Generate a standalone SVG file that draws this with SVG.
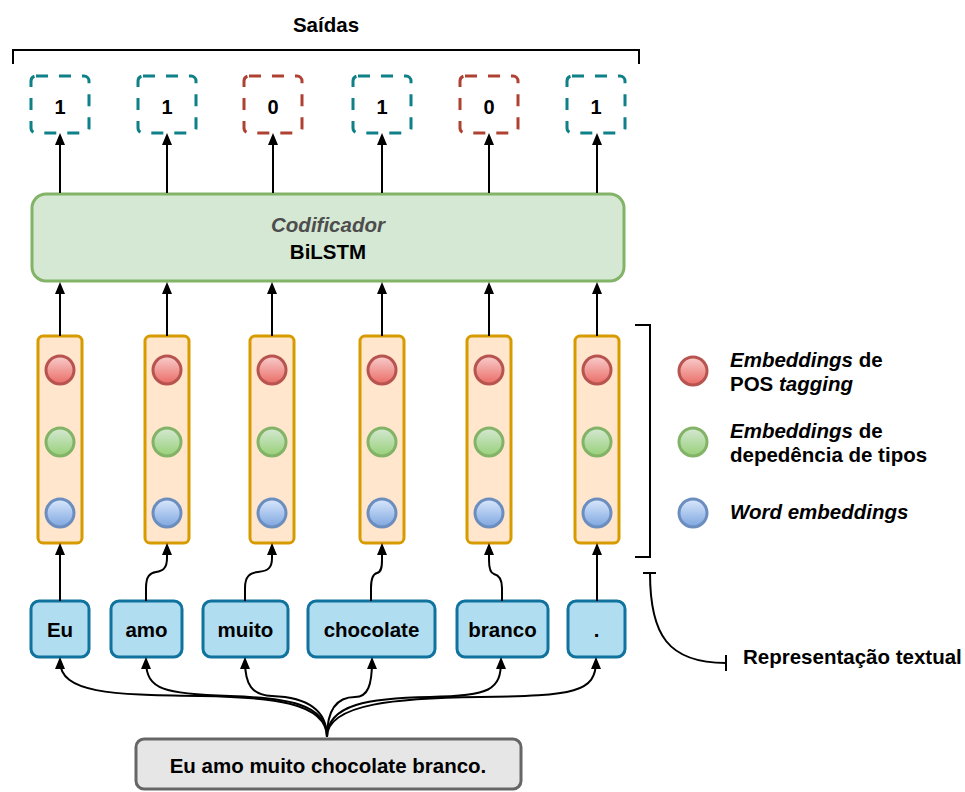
<svg xmlns="http://www.w3.org/2000/svg" width="965" height="792" viewBox="0 0 965 792">
<style>
text{font-family:"Liberation Sans",Arial,sans-serif;font-weight:bold;fill:#000}
.t20{font-size:20.5px}
.c{text-anchor:middle}
.out{fill:none;stroke-width:3;stroke-dasharray:12 11}
.teal{stroke:#0e8088}
.red{stroke:#ae4132}
.col{fill:#ffe6cc;stroke:#d79b00;stroke-width:3}
.word{fill:#b1ddf0;stroke:#10739e;stroke-width:3}
.edge{fill:none;stroke:#000;stroke-width:2}
.br{fill:none;stroke:#000;stroke-width:2}
.cr{fill:url(#gr);stroke:#b85450;stroke-width:3}
.cg{fill:url(#gg);stroke:#82b366;stroke-width:3}
.cb{fill:url(#gb);stroke:#6c8ebf;stroke-width:3}
</style>
<defs>
<marker id="ar" markerUnits="userSpaceOnUse" markerWidth="12" markerHeight="10" viewBox="0 0 12 10" refX="8" refY="5" orient="auto">
<path d="M0,0 L12,5 L0,10 z" fill="#000"/>
</marker>
<linearGradient id="gr" x1="0" y1="0" x2="0" y2="1"><stop offset="0" stop-color="#f8cecc"/><stop offset="1" stop-color="#ea6b66"/></linearGradient>
<linearGradient id="gg" x1="0" y1="0" x2="0" y2="1"><stop offset="0" stop-color="#d5e8d4"/><stop offset="1" stop-color="#97d077"/></linearGradient>
<linearGradient id="gb" x1="0" y1="0" x2="0" y2="1"><stop offset="0" stop-color="#dae8fc"/><stop offset="1" stop-color="#7ea6e0"/></linearGradient>
</defs>

<g id="saidas-label">
<text class="t20 c" x="326" y="32">Saídas</text>
<path class="br" d="M13,64 L13,50 L639,50 L639,64"/>
</g>

<g id="outputs">
<g id="out1"><rect class="out teal" x="31" y="76" width="58" height="57" rx="5"/><text class="c" font-size="20" x="60" y="114">1</text></g>
<g id="out2"><rect class="out teal" x="138" y="76" width="58" height="57" rx="5"/><text class="c" font-size="20" x="167" y="114">1</text></g>
<g id="out3"><rect class="out red" x="244" y="76" width="58" height="57" rx="5"/><text class="c" font-size="20" x="273" y="114">0</text></g>
<g id="out4"><rect class="out teal" x="353" y="76" width="58" height="57" rx="5"/><text class="c" font-size="20" x="382" y="114">1</text></g>
<g id="out5"><rect class="out red" x="460" y="76" width="58" height="57" rx="5"/><text class="c" font-size="20" x="489" y="114">0</text></g>
<g id="out6"><rect class="out teal" x="567" y="76" width="58" height="57" rx="5"/><text class="c" font-size="20" x="596" y="114">1</text></g>
</g>

<g id="encoder">
<rect x="32" y="194" width="592" height="87" rx="14" fill="#d5e8d4" stroke="#82b366" stroke-width="3"/>
<text class="t20 c" x="328" y="232" font-style="italic" style="fill:#4d4d4d">Codificador</text>
<text class="t20 c" x="328" y="259">BiLSTM</text>
</g>

<g id="columns">
<g id="col1"><rect class="col" x="38" y="336" width="44" height="207" rx="5"/><circle class="cr" cx="60" cy="370" r="14"/><circle class="cg" cx="60" cy="442" r="14"/><circle class="cb" cx="60" cy="513" r="14"/></g>
<g id="col2"><rect class="col" x="145" y="336" width="44" height="207" rx="5"/><circle class="cr" cx="167" cy="370" r="14"/><circle class="cg" cx="167" cy="442" r="14"/><circle class="cb" cx="167" cy="513" r="14"/></g>
<g id="col3"><rect class="col" x="250" y="336" width="44" height="207" rx="5"/><circle class="cr" cx="272" cy="370" r="14"/><circle class="cg" cx="272" cy="442" r="14"/><circle class="cb" cx="272" cy="513" r="14"/></g>
<g id="col4"><rect class="col" x="360" y="336" width="44" height="207" rx="5"/><circle class="cr" cx="382" cy="370" r="14"/><circle class="cg" cx="382" cy="442" r="14"/><circle class="cb" cx="382" cy="513" r="14"/></g>
<g id="col5"><rect class="col" x="467" y="336" width="44" height="207" rx="5"/><circle class="cr" cx="489" cy="370" r="14"/><circle class="cg" cx="489" cy="442" r="14"/><circle class="cb" cx="489" cy="513" r="14"/></g>
<g id="col6"><rect class="col" x="575" y="336" width="44" height="207" rx="5"/><circle class="cr" cx="597" cy="370" r="14"/><circle class="cg" cx="597" cy="442" r="14"/><circle class="cb" cx="597" cy="513" r="14"/></g>
</g>

<g id="words">
<g id="w-eu"><rect class="word" x="31" y="601" width="58" height="56" rx="8"/><text class="t20 c" x="60" y="637">Eu</text></g>
<g id="w-amo"><rect class="word" x="111" y="601" width="71" height="56" rx="8"/><text class="t20 c" x="146.5" y="637">amo</text></g>
<g id="w-muito"><rect class="word" x="203" y="601" width="85" height="56" rx="8"/><text class="t20 c" x="245.5" y="637">muito</text></g>
<g id="w-chocolate"><rect class="word" x="308" y="601" width="127" height="56" rx="8"/><text class="t20 c" x="371.5" y="637">chocolate</text></g>
<g id="w-branco"><rect class="word" x="457" y="601" width="91" height="56" rx="8"/><text class="t20 c" x="502.5" y="637">branco</text></g>
<g id="w-dot"><rect class="word" x="568" y="601" width="57" height="56" rx="8"/><text class="t20 c" x="596.5" y="637">.</text></g>
</g>

<g id="sentence">
<rect x="136" y="739" width="385" height="50" rx="8" fill="#e6e6e6" stroke="#666666" stroke-width="3"/>
<text class="t20 c" x="328" y="773">Eu amo muito chocolate branco.</text>
</g>

<g id="legend">
<g id="leg-pos"><circle class="cr" cx="693" cy="371" r="14"/><text class="t20" x="730" y="367"><tspan font-style="italic">Embeddings</tspan> de</text><text class="t20" x="730" y="391">POS <tspan font-style="italic">tagging</tspan></text></g>
<g id="leg-dep"><circle class="cg" cx="693" cy="442" r="14"/><text class="t20" x="730" y="438"><tspan font-style="italic">Embeddings</tspan> de</text><text class="t20" x="730" y="462">depedência de tipos</text></g>
<g id="leg-word"><circle class="cb" cx="693" cy="513" r="14"/><text class="t20" x="730" y="519" font-style="italic">Word embeddings</text></g>
<path class="br" d="M635,325 L650,325 L650,557 L635,557"/>
</g>

<g id="repr-label">
<text class="t20" x="743" y="664">Representação textual</text>
</g>

<g id="connectors">
<path class="edge" marker-end="url(#ar)" d="M60,193 L60,137"/>
<path class="edge" marker-end="url(#ar)" d="M167,193 L167,137"/>
<path class="edge" marker-end="url(#ar)" d="M273,193 L273,137"/>
<path class="edge" marker-end="url(#ar)" d="M382,193 L382,137"/>
<path class="edge" marker-end="url(#ar)" d="M489,193 L489,137"/>
<path class="edge" marker-end="url(#ar)" d="M597,193 L597,137"/>
<path class="edge" marker-end="url(#ar)" d="M60,336 L60,286"/>
<path class="edge" marker-end="url(#ar)" d="M167,336 L167,286"/>
<path class="edge" marker-end="url(#ar)" d="M272,336 L272,286"/>
<path class="edge" marker-end="url(#ar)" d="M382,336 L382,286"/>
<path class="edge" marker-end="url(#ar)" d="M489,336 L489,286"/>
<path class="edge" marker-end="url(#ar)" d="M597,336 L597,286"/>
<path class="edge" marker-end="url(#ar)" d="M60,601 L60,547"/>
<path class="edge" marker-end="url(#ar)" d="M146,601 L146,588 C146,576 150,573 156,572 C163,571 167,568 167,558 L167,547"/>
<path class="edge" marker-end="url(#ar)" d="M245,601 L245,588 C245,576 250,573 258,572 C268,571 272,568 272,558 L272,547"/>
<path class="edge" marker-end="url(#ar)" d="M371,601 L371,588 C371,578 373,574 377,573 C381,572 382,568 382,560 L382,547"/>
<path class="edge" marker-end="url(#ar)" d="M502,601 L502,588 C502,578 498,575 494,574 C490,573 489,568 489,560 L489,547"/>
<path class="edge" marker-end="url(#ar)" d="M597,601 L597,547"/>
<path class="edge" marker-end="url(#ar)" d="M327,737 C327,702 270,697 200,696 C110,695 60,693 60,661"/>
<path class="edge" marker-end="url(#ar)" d="M327,737 C327,703 285,698 230,696 C165,694 146,690 146,661"/>
<path class="edge" marker-end="url(#ar)" d="M327,737 C327,705 300,697 272,696 C252,695 245,685 245,661"/>
<path class="edge" marker-end="url(#ar)" d="M327,737 C327,705 340,697 355,697 C368,697 372,685 372,661"/>
<path class="edge" marker-end="url(#ar)" d="M327,737 C327,704 370,698 430,697 C490,696 501,690 501,661"/>
<path class="edge" marker-end="url(#ar)" d="M327,737 C327,703 400,698 480,697 C575,696 596,692 596,661"/>
<path class="edge" d="M643,573 L656,573 M650,573 C650,635 668,663 726,663 M726,655 L726,671"/>
</g>
</svg>
